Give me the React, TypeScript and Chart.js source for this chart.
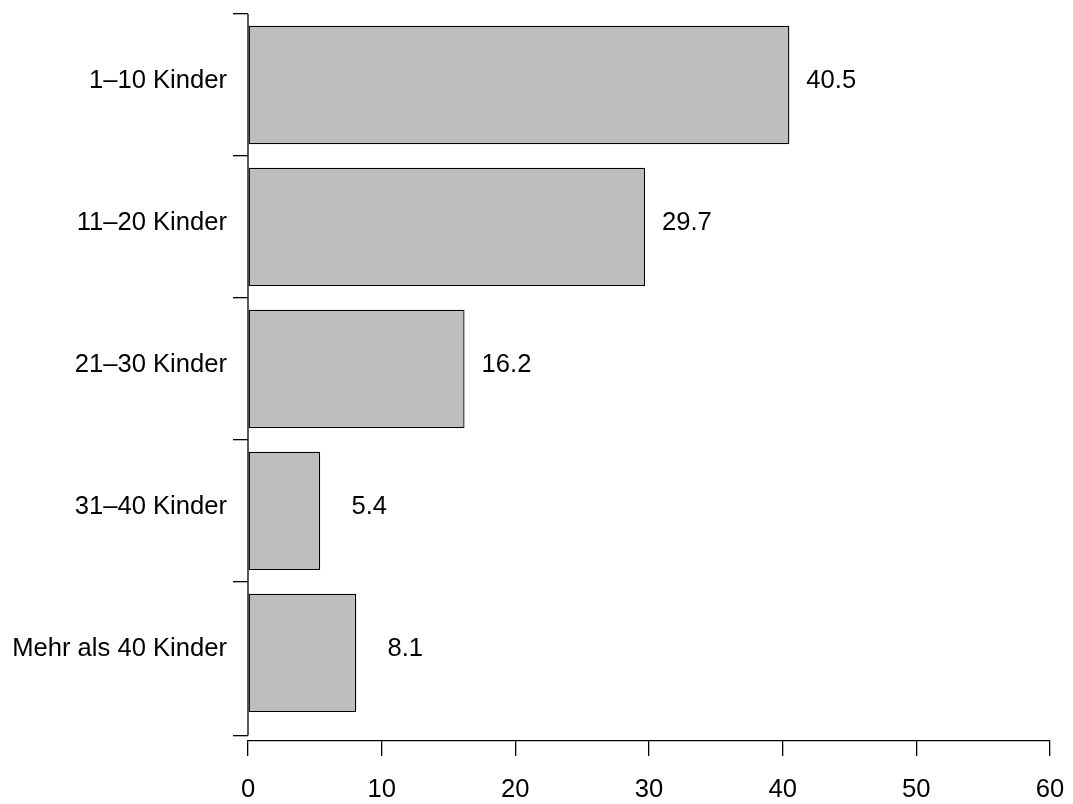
import React, { useEffect, useRef } from "react";
import { Chart, registerables } from "chart.js";

Chart.register(...registerables);

const categories = ["1–10 Kinder", "11–20 Kinder", "21–30 Kinder", "31–40 Kinder", "Mehr als 40 Kinder"];
const values = [40.5, 29.7, 16.2, 5.4, 8.1];
const valueLabels = ["40.5", "29.7", "16.2", "5.4", "8.1"];
const xTicks = [0, 10, 20, 30, 40, 50, 60];
// R barplot layout units: bar width 1, space 0.2
const yTickPositions = [0, 1.3, 2.5, 3.7, 4.9, 6.1];

const FONT = "'Liberation Sans', Arial, Helvetica, sans-serif";
const FONT_SIZE = 25.6;
const TICK_LEN = 15;
const LW = 1.3;

export default function App() {
  const ref = useRef<HTMLCanvasElement>(null);

  useEffect(() => {
    const n = categories.length;
    // bar centres in barplot units (first category at top)
    const positions = categories.map((_, i) => 0.7 + 1.2 * (n - 1 - i));
    const data = values.map((v, i) => ({ x: v, y: positions[i] }));

    const labelPlugin = {
      id: "rLabels",
      afterDraw(chart: any) {
        const ctx = chart.ctx;
        const xs = chart.scales.x;
        const ys = chart.scales.y;
        const area = chart.chartArea;
        ctx.save();
        // y axis line
        ctx.strokeStyle = "#000";
        ctx.lineWidth = LW;
        ctx.beginPath();
        ctx.moveTo(area.left, ys.getPixelForValue(yTickPositions[0]));
        ctx.lineTo(area.left, ys.getPixelForValue(yTickPositions[yTickPositions.length - 1]));
        ctx.stroke();
        ctx.fillStyle = "#000";
        ctx.font = `${FONT_SIZE}px ${FONT}`;
        ctx.textBaseline = "alphabetic";
        // category labels
        ctx.textAlign = "right";
        categories.forEach((c, i) => {
          const y = ys.getPixelForValue(positions[i]) + FONT_SIZE * 0.12;
          ctx.fillText(c, area.left - TICK_LEN - 6, y);
        });
        // value labels
        values.forEach((v, i) => {
          const y = ys.getPixelForValue(positions[i]) + FONT_SIZE * 0.12;
          ctx.fillText(valueLabels[i], xs.getPixelForValue(v + 5), y);
        });
        ctx.restore();
      },
    };

    const chart = new Chart(ref.current!, {
      type: "bar",
      data: {
        datasets: [
          {
            data,
            backgroundColor: "#BEBEBE",
            borderColor: "#000000",
            borderWidth: LW,
            borderSkipped: false,
            categoryPercentage: 1,
            barPercentage: 1 / 1.2,
          },
        ],
      },
      options: {
        indexAxis: "y",
        animation: false,
        responsive: false,
        events: [],
        layout: { padding: { top: 14, right: 23, bottom: 0, left: 0 } },
        plugins: { legend: { display: false }, tooltip: { enabled: false } },
        scales: {
          x: {
            type: "linear",
            position: "bottom",
            min: 0,
            max: 60,
            afterBuildTicks: (s: any) => {
              s.ticks = xTicks.map((v) => ({ value: v }));
            },
            afterFit: (s: any) => {
              s.height = 63;
              s.paddingLeft = 0;
              s.paddingRight = 0;
            },
            border: { display: true, color: "#000", width: LW },
            grid: { drawOnChartArea: false, drawTicks: true, tickLength: TICK_LEN, color: "#000", lineWidth: LW },
            ticks: {
              color: "#000",
              font: { family: FONT, size: FONT_SIZE },
              padding: 19,
              maxRotation: 0,
              autoSkip: false,
            },
          },
          y: {
            type: "linear",
            position: "left",
            offset: false,
            min: -0.0455,
            max: 6.1,
            afterBuildTicks: (s: any) => {
              s.ticks = yTickPositions.map((v) => ({ value: v }));
            },
            afterFit: (s: any) => {
              s.width = 248;
              s.paddingTop = 0;
              s.paddingBottom = 0;
            },
            border: { display: false },
            grid: { offset: false, drawOnChartArea: false, drawTicks: true, tickLength: TICK_LEN, color: "#000", lineWidth: LW },
            ticks: { display: false },
          },
        },
      },
      plugins: [labelPlugin],
    });
    return () => chart.destroy();
  }, []);

  return (
    <div style={{ position: "absolute", left: 0, top: 0, width: 1073, height: 804, background: "#fff" }}>
      <canvas ref={ref} width={1073} height={804} />
    </div>
  );
}
